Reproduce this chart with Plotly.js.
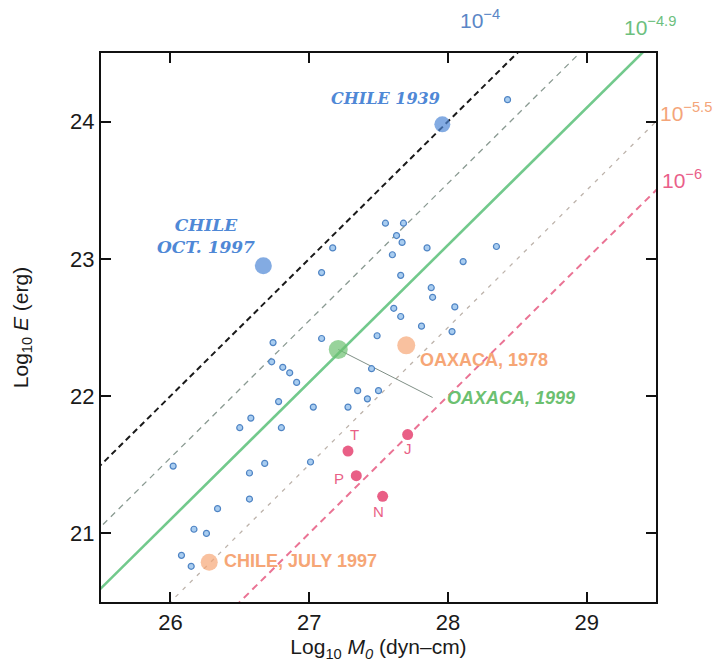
<!DOCTYPE html>
<html>
<head>
<meta charset="utf-8">
<script src="https://cdn.plot.ly/plotly-3.0.1.min.js"></script>
<style>html,body{margin:0;padding:0;background:#fff;}#chart{width:726px;height:663px;}</style>
</head>
<body>
<div id="chart"></div>
<script>
// Small earthquakes (log10 M0, log10 E)
const smallM0 = [28.43,27.55,27.68,27.63,27.67,27.17,27.85,28.35,27.60,28.11,27.09,27.66,27.88,27.89,27.61,28.05,27.66,27.81,28.03,27.49,27.09,26.74,27.45,26.73,26.81,26.86,26.91,27.35,27.50,27.42,26.78,27.03,27.28,26.58,26.50,26.80,26.02,26.68,26.57,27.01,26.57,26.34,26.17,26.26,26.08,26.15];
const smallE  = [24.16,23.26,23.26,23.17,23.12,23.08,23.08,23.09,23.03,22.98,22.90,22.88,22.79,22.72,22.64,22.65,22.58,22.51,22.47,22.44,22.42,22.39,22.20,22.25,22.21,22.17,22.10,22.04,22.04,21.98,21.96,21.92,21.92,21.84,21.77,21.77,21.49,21.51,21.44,21.52,21.25,21.18,21.03,21.00,20.84,20.76];

// Highlighted events
const eventNames = ["CHILE 1939","CHILE OCT. 1997","OAXACA, 1999","OAXACA, 1978","CHILE, JULY 1997"];
const eventM0 = [27.96,26.67,27.21,27.70,26.28];
const eventE  = [23.98,22.95,22.34,22.37,20.79];

// Pink events T, P, N, J
const pinkNames = ["T","P","N","J"];
const pinkM0 = [27.28,27.34,27.53,27.71];
const pinkE  = [21.60,21.42,21.27,21.72];

// Energy / moment ratio lines (log10 E/M0)
const ratioExp = [-4, -4.45, -4.9, -5.5, -6];
const ratioLabels = ["10<sup>−4</sup>", "", "10<sup>−4.9</sup>", "10<sup>−5.5</sup>", "10<sup>−6</sup>"];

const xTicks = [26,27,28,29];
const yTicks = [21,22,23,24];
const xRange = [25.5,29.5];
const yRange = [20.5,24.5];

const lineStyles = [
  {color:'#1a1a1a', width:2, dash:'6px,4px'},
  {color:'#8a9a92', width:1.3, dash:'6px,5px'},
  {color:'#72c98c', width:2.6, dash:'solid'},
  {color:'#bdb3ab', width:1.3, dash:'4px,6px'},
  {color:'#ea7394', width:2, dash:'7px,5px'}
];

const traces = [];
ratioExp.forEach((c,i)=>{
  const xs = [xRange[0]-1, xRange[1]+1];
  traces.push({x:xs, y:xs.map(v=>v+c), mode:'lines', line:lineStyles[i], hoverinfo:'skip', showlegend:false});
});
// leader line for OAXACA 1999
traces.push({x:[eventM0[2], 27.89], y:[eventE[2], 21.99], mode:'lines', line:{color:'#7f8f86', width:1}, showlegend:false, hoverinfo:'skip'});

traces.push({x:smallM0, y:smallE, mode:'markers', showlegend:false,
  marker:{size:6, color:'#a9cdf0', line:{color:'#4f84c4', width:1.2}}});

const evColors = ['#4f88d6','#4f88d6','#6cc070','#f6a676','#f6a676'];
const evSizes = [16,17,19,18,17];
traces.push({x:eventM0, y:eventE, mode:'markers', showlegend:false, text:eventNames,
  marker:{size:evSizes, color:evColors, line:{width:0}}});
traces.push({x:pinkM0, y:pinkE, mode:'markers', showlegend:false, text:pinkNames,
  marker:{size:11, color:'#e95f86', line:{width:0}}});

const ann = [];
const serifBI = {family:'DejaVu Serif', size:16, color:'#4f88d6'};
ann.push({x:27.55, y:24.17, xref:'x', yref:'y', text:'<b><i>CHILE 1939</i></b>', showarrow:false, font:serifBI});
ann.push({x:26.26, y:23.17, xref:'x', yref:'y', text:'<b><i>CHILE<br>OCT. 1997</i></b>', showarrow:false, align:'center', font:{family:'DejaVu Serif', size:17, color:'#4f88d6'}});
ann.push({x:27.785, y:22.26, xref:'x', yref:'y', xanchor:'left', text:'<b>OAXACA, 1978</b>', showarrow:false, font:{family:'Liberation Sans', size:18, color:'#f6a676'}});
ann.push({x:27.98, y:21.99, xref:'x', yref:'y', xanchor:'left', text:'<b><i>OAXACA, 1999</i></b>', showarrow:false, font:{family:'Liberation Sans', size:18, color:'#6cc070'}});
ann.push({x:26.37, y:20.80, xref:'x', yref:'y', xanchor:'left', text:'<b>CHILE, JULY 1997</b>', showarrow:false, font:{family:'Liberation Sans', size:18, color:'#f6a676'}});
const pinkLab = [[27.33,21.72],[27.215,21.40],[27.50,21.16],[27.713,21.62]];
pinkNames.forEach((n,i)=>{
  ann.push({x:pinkLab[i][0], y:pinkLab[i][1], xref:'x', yref:'y', text:n, showarrow:false, font:{family:'Liberation Sans', size:15, color:'#e95f86'}});
});
// ratio labels
const rl = [
  {i:0, x:0.683, y:1.062, xa:'center', col:'#5a86c6'},
  {i:2, x:0.938, y:1.050, xa:'left', col:'#6cc07e'},
  {i:3, x:1.003, y:0.893, xa:'left', col:'#f4a57a'},
  {i:4, x:1.007, y:0.770, xa:'left', col:'#ea5f8a'}
];
rl.forEach(r=>{
  ann.push({x:r.x, y:r.y, xref:'paper', yref:'paper', xanchor:r.xa, yanchor:'middle', text:ratioLabels[r.i], showarrow:false,
    font:{family:'Liberation Sans', size:21, color:r.col}});
});

const axisCommon = {showgrid:false, zeroline:false, showline:true, linecolor:'#111', linewidth:2, mirror:'ticks',
  ticks:'inside', ticklen:10, tickwidth:2, tickcolor:'#111',
  tickfont:{family:'Liberation Sans', size:22, color:'#1a1a1a'}};

const layout = {
  width:726, height:663,
  margin:{l:101, r:70, t:53, b:61},
  paper_bgcolor:'#fff', plot_bgcolor:'#fff',
  xaxis:Object.assign({}, axisCommon, {range:xRange, tickvals:xTicks, ticktext:xTicks.map(String),
    title:{text:'Log<sub>10</sub> <i>M<sub>0</sub></i> (dyn–cm)', font:{family:'Liberation Sans', size:21, color:'#1a1a1a'}, standoff:0}}),
  yaxis:Object.assign({}, axisCommon, {range:yRange, tickvals:yTicks, ticktext:yTicks.map(String),
    title:{text:'Log<sub>10</sub> <i>E</i> (erg)', font:{family:'Liberation Sans', size:21, color:'#1a1a1a'}, standoff:36}}),
  annotations:ann,
  showlegend:false
};

Plotly.newPlot('chart', traces, layout, {staticPlot:true});
</script>
</body>
</html>
